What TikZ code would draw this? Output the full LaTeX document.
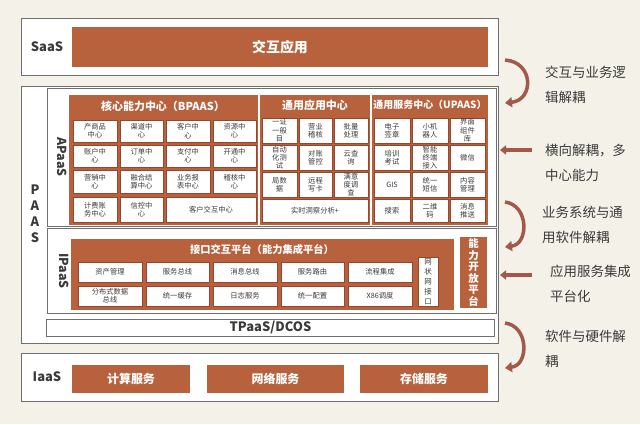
\documentclass[tikz,border=0pt]{standalone}
\usepackage{fontspec}
\setmainfont{Noto Sans CJK SC}
\usetikzlibrary{arrows.meta}
\definecolor{bg}{HTML}{F3F1E8}
\definecolor{rust}{HTML}{B8613D}
\definecolor{rustdark}{HTML}{96462E}
\definecolor{framec}{HTML}{6F6F6F}
\definecolor{ink}{HTML}{3A3A3A}
\definecolor{arr}{HTML}{A3584A}
\newcommand\cellbox[7]{%
  \pgfmathsetmacro\cbw{#5-#3}%
  \pgfmathsetmacro\cbh{#6-#4}%
  \node[#2, minimum width=\cbw bp, minimum height=\cbh bp] (#1) at ({(#3+#5)/2},{(#4+#6)/2}) {#7};%
}
\tikzset{
  obox/.style={draw=framec, line width=1bp, fill=white, inner sep=0pt, outer sep=0pt, text=ink},
  obar/.style={fill=rust, draw=none, text=white, inner sep=0pt, font=\bfseries\fontsize{14}{16}\selectfont},
  ibar/.style={fill=rust, draw=none, text=white, inner sep=0pt, font=\bfseries\fontsize{12}{14}\selectfont},
  oblk/.style={fill=rust, draw=none, inner sep=0pt},
  ocell/.style={fill=white, draw=rustdark, line width=0.8bp, inner sep=0pt, align=center, text=ink, font=\fontsize{7.3}{8.3}\selectfont},
  ohdr/.style={text=white, inner sep=0pt, font=\bfseries\fontsize{11}{13}\selectfont},
  olbl/.style={text=ink, inner sep=0pt, font=\bfseries\fontsize{13}{15}\selectfont},
  onote/.style={text=ink, align=left, anchor=west, inner sep=0pt, font=\fontsize{13.5}{25}\selectfont},
  curarr/.style={draw=arr, line width=3.5bp, -{Triangle[length=7bp,width=10bp]}},
  strarr/.style={draw=arr, line width=4bp, -{Triangle[length=6bp,width=9bp]}},
}
\begin{document}
\begin{tikzpicture}[x=1bp,y=-1bp]
\useasboundingbox (0,0) rectangle (640,424);
\fill[bg] (0,0) rectangle (640,424);

% ---------------- SaaS
\cellbox{saas}{obox}{22}{18}{498}{75}{}
\node[olbl] (saasl) at (47,47) {SaaS};
\cellbox{jhyy}{obar}{72}{27}{488}{67}{交互应用}

% ---------------- PAAS
\cellbox{paas}{obox}{22}{86}{498}{343}{}
\node[olbl, align=center, font=\bfseries\fontsize{13}{16}\selectfont] (paasl) at (35,214) {P\\A\\A\\S};
\cellbox{apaas}{obox}{48}{88}{496}{226}{}
\node[olbl, rotate=-90, font=\bfseries\fontsize{12.5}{15}\selectfont] (apaasl) at (62,157) {APaaS};
\cellbox{ipaas}{obox}{48}{228}{496}{313}{}
\node[olbl, rotate=-90, font=\bfseries\fontsize{12.5}{15}\selectfont] (ipaasl) at (64,271) {IPaaS};
\cellbox{tpaas}{obox}{47}{319}{494}{336}{\bfseries\fontsize{13}{15}\selectfont TPaaS/DCOS}

% ---------------- BPAAS
\cellbox{bp}{oblk}{69}{95}{258}{225}{}
\node[ohdr] (bph) at (163,106) {核心能力中心（BPAAS）};
\cellbox{b11}{ocell}{73}{120}{117}{142}{产商品\\中心}
\cellbox{b12}{ocell}{120}{120}{163}{142}{渠道中\\心}
\cellbox{b13}{ocell}{166}{120}{210}{142}{客户中\\心}
\cellbox{b14}{ocell}{213}{120}{256}{142}{资源中\\心}
\cellbox{b21}{ocell}{73}{145}{117}{167}{账户中\\心}
\cellbox{b22}{ocell}{120}{145}{163}{167}{订单中\\心}
\cellbox{b23}{ocell}{166}{145}{210}{167}{支付中\\心}
\cellbox{b24}{ocell}{213}{145}{256}{167}{开通中\\心}
\cellbox{b31}{ocell}{73}{170}{117}{193}{营销中\\心}
\cellbox{b32}{ocell}{120}{170}{163}{193}{融合结\\算中心}
\cellbox{b33}{ocell}{166}{170}{210}{193}{业务报\\表中心}
\cellbox{b34}{ocell}{213}{170}{256}{193}{稽核中\\心}
\cellbox{b41}{ocell}{73}{197}{117}{222}{计费账\\务中心}
\cellbox{b42}{ocell}{120}{197}{163}{222}{信控中\\心}
\cellbox{b43}{ocell}{166}{197}{256}{222}{客户交互中心}

% ---------------- 通用应用中心
\cellbox{ga}{oblk}{260}{95}{370}{225}{}
\node[ohdr] (gah) at (315,105) {通用应用中心};
\cellbox{g11}{ocell}{262}{118}{297}{143}{一证\\一般\\目}
\cellbox{g12}{ocell}{299}{118}{332}{143}{营业\\稽核}
\cellbox{g13}{ocell}{334}{118}{368}{143}{批量\\处理}
\cellbox{g21}{ocell}{262}{145}{297}{170}{自动\\化测\\试}
\cellbox{g22}{ocell}{299}{145}{332}{170}{对账\\管控}
\cellbox{g23}{ocell}{334}{145}{368}{170}{云查\\询}
\cellbox{g31}{ocell}{262}{172}{297}{197}{局数\\据}
\cellbox{g32}{ocell}{299}{172}{332}{197}{远程\\写卡}
\cellbox{g33}{ocell}{334}{172}{368}{197}{满意\\度调\\查}
\cellbox{g41}{ocell}{262}{199}{368}{222}{实时洞察分析+}

% ---------------- UPAAS
\cellbox{up}{oblk}{372}{95}{488}{225}{}
\node[ohdr, font=\bfseries\fontsize{10}{12}\selectfont] (uph) at (430,105) {通用服务中心（UPAAS）};
\cellbox{u11}{ocell}{374}{118}{410}{143}{电子\\签章}
\cellbox{u12}{ocell}{412}{118}{448}{143}{小机\\器人}
\cellbox{u13}{ocell}{450}{118}{485}{143}{界面\\组件\\库}
\cellbox{u21}{ocell}{374}{145}{410}{170}{培训\\考试}
\cellbox{u22}{ocell}{412}{145}{448}{170}{智能\\终端\\接入}
\cellbox{u23}{ocell}{450}{145}{485}{170}{微信}
\cellbox{u31}{ocell}{374}{172}{410}{197}{GIS}
\cellbox{u32}{ocell}{412}{172}{448}{197}{统一\\短信}
\cellbox{u33}{ocell}{450}{172}{485}{197}{内容\\管理}
\cellbox{u41}{ocell}{374}{199}{410}{222}{搜索}
\cellbox{u42}{ocell}{412}{199}{448}{222}{二维\\码}
\cellbox{u43}{ocell}{450}{199}{485}{222}{消息\\推送}

% ---------------- IPaaS
\cellbox{ip}{oblk}{71}{239}{454}{310}{}
\node[ohdr, font=\bfseries\fontsize{10.3}{12}\selectfont] (iph) at (262,250) {接口交互平台（能力集成平台）};
\cellbox{i11}{ocell}{78}{262}{142}{282}{资产管理}
\cellbox{i12}{ocell}{146}{262}{209}{282}{服务总线}
\cellbox{i13}{ocell}{213}{262}{277}{282}{消息总线}
\cellbox{i14}{ocell}{281}{262}{344}{282}{服务路由}
\cellbox{i15}{ocell}{348}{262}{412}{282}{流程集成}
\cellbox{i21}{ocell}{78}{286}{142}{306}{分布式数据\\总线}
\cellbox{i22}{ocell}{146}{286}{209}{306}{统一缓存}
\cellbox{i23}{ocell}{213}{286}{277}{306}{日志服务}
\cellbox{i24}{ocell}{281}{286}{344}{306}{统一配置}
\cellbox{i25}{ocell}{348}{286}{412}{306}{X86调度}
\cellbox{iwz}{ocell, font=\fontsize{7.5}{10}\selectfont}{418}{257}{438}{306}{网\\状\\网\\接\\口}
\cellbox{nlkf}{oblk, text=white, align=center, font=\bfseries\fontsize{10.5}{11.5}\selectfont}{460}{237}{487}{308}{能\\力\\开\\放\\平\\台}

% ---------------- IaaS
\cellbox{iaas}{obox}{22}{353}{498}{401}{}
\node[olbl] (iaasl) at (47,377) {IaaS};
\cellbox{js}{ibar}{72}{365}{190}{393}{计算服务}
\cellbox{wl}{ibar}{207}{365}{344}{393}{网络服务}
\cellbox{cc}{ibar}{360}{365}{488}{393}{存储服务}

% ---------------- right-hand notes
\node[onote] (n1) at (545,84.5) {交互与业务逻\\辑解耦};
\node[onote] (n2) at (545,162.5) {横向解耦，多\\中心能力};
\node[onote] (n3) at (542,224.5) {业务系统与通\\用软件解耦};
\node[onote] (n4) at (550,283.5) {应用服务集成\\平台化};
\node[onote] (n5) at (545,348.5) {软件与硬件解\\耦};

\coordinate (c1a) at (505,60);  \coordinate (c1b) at (505,103);
\coordinate (c2a) at (505,202); \coordinate (c2b) at (505,247);
\coordinate (c3a) at (505,323); \coordinate (c3b) at (505,368);
\coordinate (s1a) at (532,150); \coordinate (s1b) at (500,150);
\coordinate (s2a) at (532,275); \coordinate (s2b) at (500,275);
\draw[curarr] (c1a) .. controls (534,62) and (534,100) .. (c1b);
\draw[curarr] (c2a) .. controls (529,205) and (529,244) .. (c2b);
\draw[curarr] (c3a) .. controls (529,326) and (529,365) .. (c3b);
\draw[strarr] (s1a) -- (s1b);
\draw[strarr] (s2a) -- (s2b);
\end{tikzpicture}
\end{document}
